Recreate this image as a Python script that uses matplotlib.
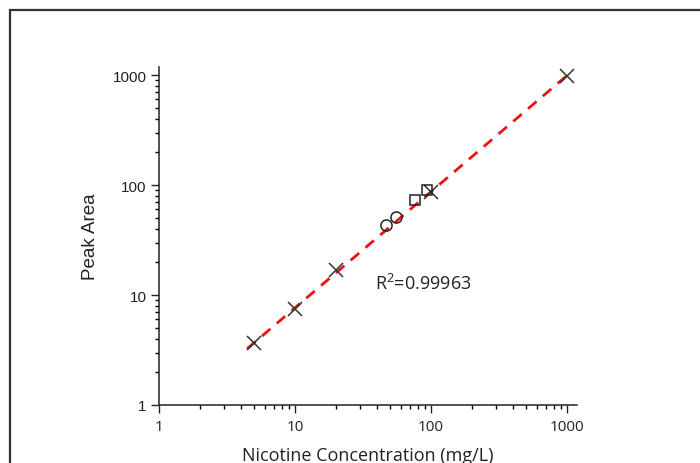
import matplotlib
matplotlib.use("Agg")
import matplotlib.pyplot as plt
import matplotlib.patches as patches
from matplotlib.ticker import LogLocator, NullFormatter, FixedLocator, FixedFormatter

# calibration standards (x markers)
std_x = [5, 10, 20, 100, 1000]
std_y = [3.66, 7.46, 16.9, 86.4, 982]
# samples (circles and squares)
circ_x = [46.7, 55.3]
circ_y = [43.3, 51.2]
sq_x = [76.3, 93.5]
sq_y = [73.1, 90.1]
# fitted line end points
fit_x = [4.45, 1000]
fit_y = [3.25, 990]
r2_label = "R$^2$=0.99963"

major = [1, 10, 100, 1000]
major_labels = ["1", "10", "100", "1000"]

plt.rcParams['mathtext.fontset'] = 'custom'
plt.rcParams['mathtext.rm'] = 'Open Sans'

fig = plt.figure(figsize=(7, 4.64), dpi=100)
ax = fig.add_axes([159 / 700, 1 - 406 / 464, 418 / 700, 338 / 464])

# outer frame (top and left only visible)
frame = patches.Rectangle((9.5 / 700, -0.1), 1.2, 1 - 10.5 / 464 + 0.1,
                          transform=fig.transFigure, fill=False,
                          edgecolor='#333333', linewidth=1.6)
fig.patches.append(frame)

ax.plot(fit_x, fit_y, color='#ee1111', linestyle=(0, (4, 3)), linewidth=2, zorder=2)
ax.plot(std_x, std_y, linestyle='none', marker='x', color='#333333',
        markersize=10, markeredgewidth=1.1, zorder=3)
ax.plot(circ_x, circ_y, linestyle='none', marker='o', markerfacecolor='none',
        markeredgecolor='#222222', markersize=8, markeredgewidth=1.1, zorder=3)
ax.plot(sq_x, sq_y, linestyle='none', marker='s', markerfacecolor='none',
        markeredgecolor='#222222', markersize=7.5, markeredgewidth=1.1, zorder=3)

ax.set_xscale('log')
ax.set_yscale('log')
ax.set_xlim(1, 1185)
ax.set_ylim(1, 1183)

for s in ['top', 'right']:
    ax.spines[s].set_visible(False)
for s in ['left', 'bottom']:
    ax.spines[s].set_linewidth(1.1)
    ax.spines[s].set_color('#222222')

ax.xaxis.set_major_locator(FixedLocator(major))
ax.xaxis.set_major_formatter(FixedFormatter(major_labels))
ax.yaxis.set_major_locator(FixedLocator(major))
ax.yaxis.set_major_formatter(FixedFormatter(major_labels))
ax.xaxis.set_minor_locator(LogLocator(base=10, subs=range(2, 10)))
ax.yaxis.set_minor_locator(LogLocator(base=10, subs=range(2, 10)))
ax.xaxis.set_minor_formatter(NullFormatter())
ax.yaxis.set_minor_formatter(NullFormatter())

ax.tick_params(axis='x', which='major', direction='out', length=6, width=1,
               labelsize=11, pad=4, colors='#222222', labelfontfamily='Open Sans')
ax.tick_params(axis='x', which='minor', direction='out', length=3, width=1)
ax.tick_params(axis='y', which='major', direction='out', length=6, width=1,
               labelsize=11, pad=3, colors='#222222', labelfontfamily='Liberation Sans')
ax.tick_params(axis='y', which='minor', direction='out', length=3, width=1)

ax.set_xlabel("Nicotine Concentration (mg/L)", fontsize=13, family='Open Sans',
              labelpad=9, color='#222222')
ax.set_ylabel("Peak Area", fontsize=13.5, family='Liberation Sans',
              labelpad=10, color='#222222')

ax.text(38.7, 12.9, r2_label, fontsize=13, family='Open Sans',
        ha='left', va='center', color='#222222')

fig.savefig("out.png", dpi=100)
